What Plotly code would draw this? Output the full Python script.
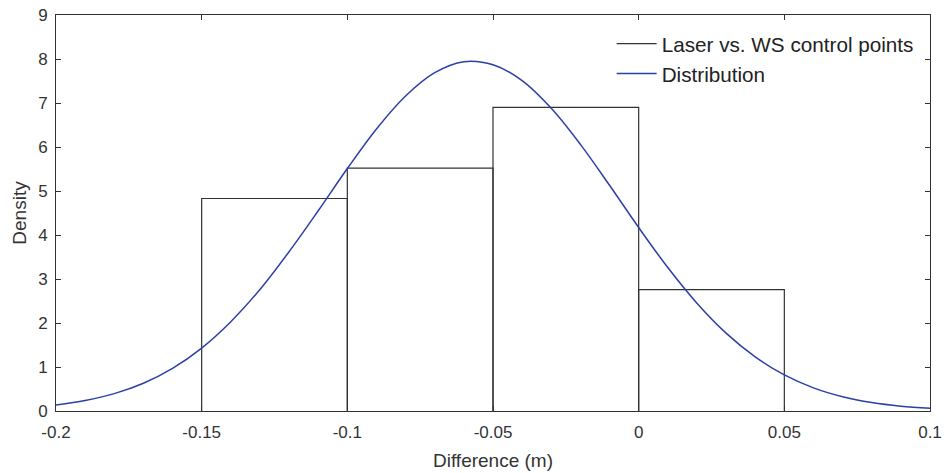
import plotly.graph_objects as go

# Histogram data (bin edges and densities)
bin_edges = [-0.15, -0.10, -0.05, 0.00, 0.05]
bin_density = [4.83, 5.52, 6.90, 2.76]

# Fitted distribution
dist_x = [-0.20, -0.19, -0.18, -0.17, -0.16, -0.15, -0.14, -0.13, -0.12, -0.11,
          -0.10, -0.09, -0.08, -0.07, -0.06, -0.05, -0.04, -0.03, -0.02, -0.01,
          0.00, 0.01, 0.02, 0.03, 0.04, 0.05, 0.06, 0.07, 0.08, 0.09, 0.10]
dist_y = [0.138, 0.238, 0.395, 0.631, 0.969, 1.43, 2.03, 2.76, 3.62, 4.55,
          5.51, 6.41, 7.16, 7.69, 7.94, 7.87, 7.51, 6.88, 6.06, 5.13,
          4.17, 3.26, 2.45, 1.77, 1.23, 0.82, 0.526, 0.324, 0.192, 0.109, 0.060]

x_ticks = [-0.2, -0.15, -0.1, -0.05, 0, 0.05, 0.1]
x_tick_labels = ["-0.2", "-0.15", "-0.1", "-0.05", "0", "0.05", "0.1"]
y_ticks = list(range(0, 10))

# Build histogram outline from bins
hx, hy = [], []
for i, h in enumerate(bin_density):
    l, r = bin_edges[i], bin_edges[i + 1]
    hx += [l, l, r, r, None]
    hy += [0, h, h, 0, None]

fig = go.Figure()
fig.add_trace(go.Scatter(x=hx, y=hy, mode="lines", name="Laser vs. WS control points",
                         line=dict(color="#333333", width=1.2), hoverinfo="skip"))
fig.add_trace(go.Scatter(x=dist_x, y=dist_y, mode="lines", name="Distribution",
                         line=dict(color="#2b3fa8", width=1.5, shape="spline", smoothing=1.0)))

FAM = "Liberation Sans, Arial, sans-serif"
tickfont = dict(family=FAM, size=17, color="#333333")
axis_common = dict(showgrid=False, zeroline=False, showline=True, linecolor="#333333",
                   linewidth=1, mirror="allticks", ticks="inside", ticklen=5,
                   tickcolor="#333333", tickfont=tickfont, automargin=False)

fig.update_layout(
    width=944, height=473, autosize=False,
    margin=dict(l=56, r=14, t=15, b=62),
    plot_bgcolor="white", paper_bgcolor="white",
    font=dict(family=FAM, color="#333333"),
    xaxis=dict(range=[-0.2, 0.1], tickvals=x_ticks, ticktext=x_tick_labels,
               ticklabelstandoff=6,
               title=dict(text="Difference (m)", font=dict(family=FAM, size=19, color="#333333"), standoff=12),
               **axis_common),
    yaxis=dict(range=[0, 9], tickvals=y_ticks, ticklabelstandoff=4,
               title=dict(text="Density", font=dict(family=FAM, size=19, color="#333333"), standoff=6),
               **axis_common),
    legend=dict(x=0.987, y=0.978, xanchor="right", yanchor="top",
                bgcolor="rgba(255,255,255,0)", borderwidth=0,
                font=dict(family=FAM, size=20.7, color="#222222"),
                tracegroupgap=0, itemwidth=40),
    showlegend=True,
)

fig.write_html("out.html")
